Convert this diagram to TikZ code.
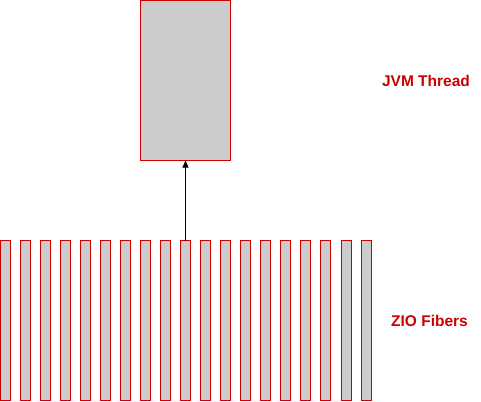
\documentclass[tikz,border=0pt]{standalone}
\usepackage{fontspec}
\setmainfont{Liberation Sans}
\usetikzlibrary{arrows.meta}
\definecolor{boxred}{HTML}{CC0000}
\definecolor{boxgray}{HTML}{CCCCCC}
\tikzset{
  box/.style={draw=boxred, fill=boxgray, line width=1pt, inner sep=0pt, outer sep=0pt, anchor=north west},
  lbl/.style={text=boxred, font=\fontsize{15.5}{18}\selectfont\bfseries, inner sep=0pt},
  conn/.style={draw=black, line width=1pt, -{Triangle[length=7pt,width=6pt]}}
}
\begin{document}
\begin{tikzpicture}[x=1pt,y=-1pt]
\useasboundingbox (0,0) rectangle (481,401);
\node[box, minimum width=90pt, minimum height=160pt] (jvm) at (140.5,0.5) {};
\foreach \i/\x in {1/0,2/20,3/40,4/60,5/80,6/100,7/120,8/140,9/160,10/180,11/200,12/220,13/240,14/260,15/280,16/300,17/320,18/341,19/361} {
  \node[box, minimum width=10pt, minimum height=160pt] (f\i) at (\x+0.5,240.5) {};
}
\draw[conn] (f10.north) -- (jvm.south);
\node[lbl] (jvmlbl) at (426,81) {JVM Thread};
\node[lbl] (ziolbl) at (429.5,321) {ZIO Fibers};
\end{tikzpicture}
\end{document}
